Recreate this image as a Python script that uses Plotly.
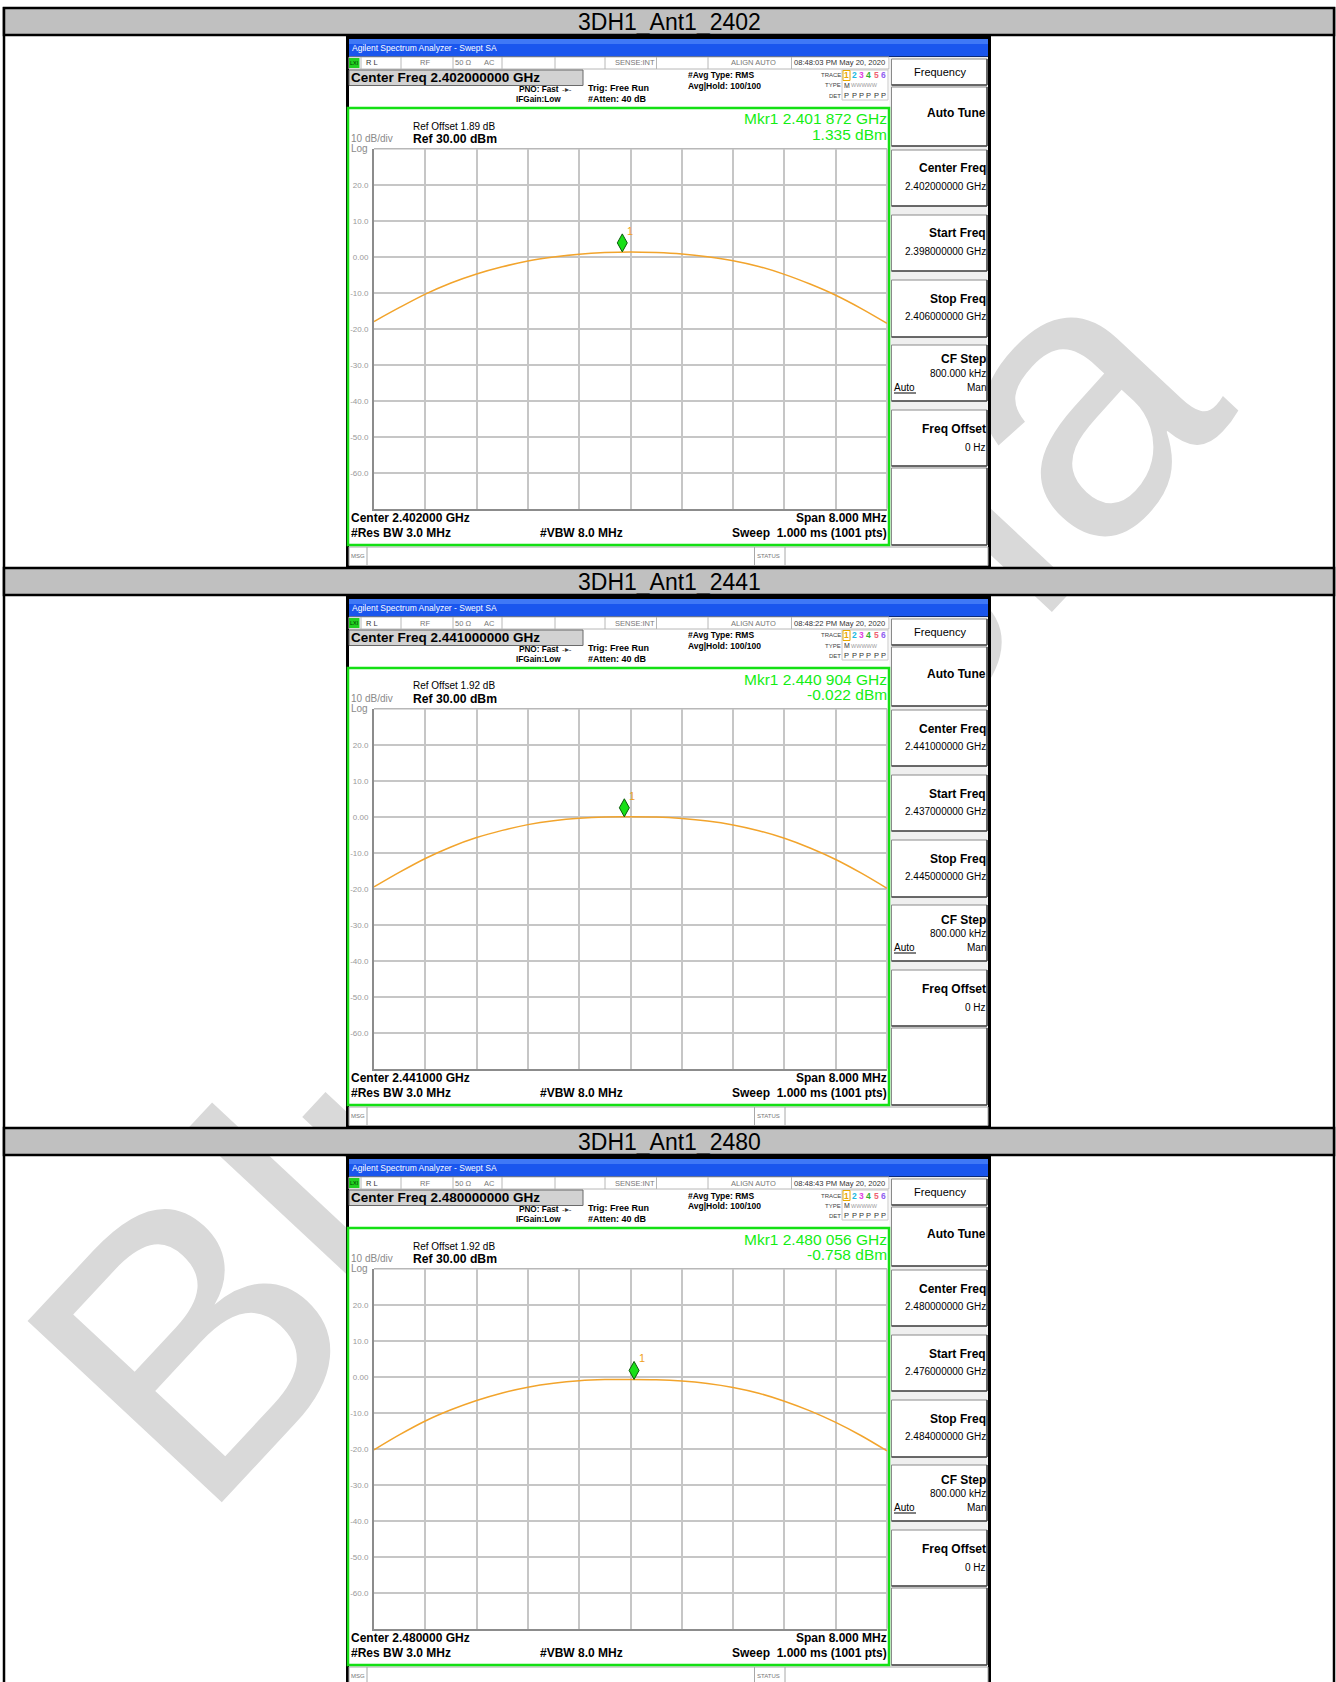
import plotly.graph_objects as go

# ---------------- data ----------------
panel_titles = ["3DH1_Ant1_2402", "3DH1_Ant1_2441", "3DH1_Ant1_2480"]
center_ghz = [2.402, 2.441, 2.480]
span_mhz = 8.0
ref_offset_db = [1.89, 1.92, 1.92]
sweep_time = ["08:48:03 PM May 20, 2020", "08:48:22 PM May 20, 2020", "08:48:43 PM May 20, 2020"]
marker_ghz = [2.401872, 2.440904, 2.480056]
marker_dbm = [1.335, -0.022, -0.758]

# trace readings, one every half division (0.4 MHz) across the span
freq_offset_mhz = [-4.0, -3.6, -3.2, -2.8, -2.4, -2.0, -1.6, -1.2, -0.8, -0.4, 0.0,
                   0.4, 0.8, 1.2, 1.6, 2.0, 2.4, 2.8, 3.2, 3.6, 4.0]
trace_2402 = [-18.0, -14.1, -10.4, -7.3, -4.8, -2.8, -1.2, -0.1, 0.7, 1.15, 1.33,
              1.15, 0.75, 0.0, -1.1, -2.7, -4.9, -7.6, -10.7, -14.4, -18.5]
trace_2441 = [-19.5, -15.4, -11.6, -8.4, -5.8, -3.8, -2.2, -1.1, -0.4, -0.05, -0.02,
              -0.1, -0.5, -1.2, -2.3, -3.9, -6.0, -8.7, -11.9, -15.7, -19.9]
trace_2480 = [-20.3, -16.1, -12.3, -9.2, -6.6, -4.5, -2.9, -1.8, -1.1, -0.8, -0.76,
              -0.85, -1.2, -1.9, -3.0, -4.6, -6.8, -9.5, -12.7, -16.4, -20.6]
traces = [trace_2402, trace_2441, trace_2480]

ref_level_dbm = 30.0
db_per_div = 10.0
ytick_vals = [20, 10, 0, -10, -20, -30, -40, -50, -60]
ytick_text = ["20.0", "10.0", "0.00", "-10.0", "-20.0", "-30.0", "-40.0", "-50.0", "-60.0"]
trace_ids = ["1", "2", "3", "4", "5", "6"]
trace_id_colors = ["#e8a800", "#20b8e0", "#e040e0", "#30b030", "#f06070", "#9060f0"]

# ---------------- page geometry helpers ----------------
W, H = 1336, 1682
ROW = 560
FONT = "Liberation Sans, Arial, sans-serif"

def X(px):
    return px / W

def Y(py):
    return 1 - py / H

shapes, annos = [], []

def box(x0, y0, x1, y1, fill="rgba(0,0,0,0)", line="rgba(0,0,0,0)", lw=0, layer="below"):
    shapes.append(dict(type="rect", xref="paper", yref="paper",
                       x0=X(x0), x1=X(x1), y0=Y(y1), y1=Y(y0),
                       fillcolor=fill, line=dict(color=line, width=lw), layer=layer))

def seg(x0, y0, x1, y1, color, lw, layer="below"):
    shapes.append(dict(type="line", xref="paper", yref="paper",
                       x0=X(x0), x1=X(x1), y0=Y(y0), y1=Y(y1),
                       line=dict(color=color, width=lw), layer=layer))

def txt(x, y, s, size, color="#000000", anchor="left", bold=False):
    annos.append(dict(xref="paper", yref="paper", x=X(x), y=Y(y),
                      text=f"<b>{s}</b>" if bold else s, showarrow=False,
                      xanchor=anchor, yanchor="middle", borderpad=0, borderwidth=0,
                      font=dict(family=FONT, size=size, color=color)))

def mkr_freq_text(g):
    s = f"{g:.6f}"
    return s[:5] + " " + s[5:]

# watermark behind everything
shapes.append(dict(type="rect", xref="paper", yref="paper",
                   x0=X(585), x1=X(605), y0=Y(862), y1=Y(842),
                   fillcolor="rgba(0,0,0,0)", line=dict(width=0), layer="below",
                   label=dict(text="BlueAsia", textangle=-47, textposition="middle center",
                              font=dict(family=FONT, size=386, color="#d9d9d9"))))

# table outer borders
seg(4, 7, 4, H + 5, "#000000", 2.5)
seg(1334, 7, 1334, H + 5, "#000000", 2.5)

fig = go.Figure()
layout_axes = {}

for i in range(3):
    d = ROW * i
    c = center_ghz[i]
    start = c - span_mhz / 2000
    stop = c + span_mhz / 2000

    # table header row
    box(4, 8 + d, 1334, 35 + d, fill="#c0c0c0", line="#000000", lw=2.5)
    txt(669, 21.8 + d, panel_titles[i], 23, anchor="center")

    # analyzer window frame
    box(346, 35.5 + d, 991, 567 + d, fill="#000000")
    box(349, 39 + d, 988, 56.5 + d, fill="#1a56ee")
    box(349, 39 + d, 988, 44 + d, fill="#3f78f6")
    box(349, 57 + d, 988, 565.5 + d, fill="#ffffff")
    txt(352, 48 + d, "Agilent Spectrum Analyzer - Swept SA", 8.5, "#ffffff")

    # status strip
    box(349, 57 + d, 889, 69 + d, fill="#ffffff", line="#b8b8b8", lw=1)
    for xd in [361, 401, 453, 502, 555, 605, 656.5, 708, 791.5]:
        seg(xd, 57 + d, xd, 69 + d, "#b8b8b8", 1)
    box(349, 58 + d, 359.5, 68 + d, fill="#22d022")
    txt(349.8, 63 + d, "LXI", 5.5, "#003300")
    txt(366, 63 + d, "R L", 7.5, "#333333")
    txt(420, 63 + d, "RF", 7.5, "#777777")
    txt(454.5, 63 + d, "50 Ω", 7.5, "#777777")
    txt(484, 63 + d, "AC", 7.5, "#777777")
    txt(655, 63 + d, "SENSE:INT", 7.5, "#777777", anchor="right")
    txt(731, 63 + d, "ALIGN AUTO", 7.5, "#777777")
    txt(794, 63 + d, sweep_time[i], 7.6, "#333333")

    # settings block
    box(349, 70 + d, 583, 85.5 + d, fill="#d2d2d2", line="#6a6a6a", lw=1)
    txt(351, 77.8 + d, f"Center Freq {c:.9f} GHz", 13.5, bold=True)
    txt(519, 89.5 + d, "PNO: Fast", 8.2, bold=True)
    txt(562, 89.5 + d, "-▸-", 8, "#333333")
    txt(516, 99 + d, "IFGain:Low", 8.2, bold=True)
    txt(588, 88 + d, "Trig: Free Run", 9, bold=True)
    txt(588, 99 + d, "#Atten: 40 dB", 9, bold=True)
    txt(688.5, 75.5 + d, "#Avg Type: RMS", 8.5, bold=True)
    txt(688.5, 86 + d, "Avg|Hold: 100/100", 8.5, bold=True)

    # trace table
    box(842, 70 + d, 888, 100 + d, line="#c8c8c8", lw=1)
    txt(841, 75.5 + d, "TRACE", 6, "#444444", anchor="right")
    txt(841, 85.5 + d, "TYPE", 6, "#444444", anchor="right")
    txt(841, 95.5 + d, "DET", 6, "#444444", anchor="right")
    box(843, 70.5 + d, 850, 80.5 + d, line="#e8a800", lw=1)
    for j, (tid, tcol) in enumerate(zip(trace_ids, trace_id_colors)):
        xj = 844.3 + j * 7.3
        txt(xj, 75.5 + d, tid, 8.5, tcol, bold=True)
        txt(xj, 95.5 + d, "P", 7.5, "#333333")
    txt(844.3, 85.5 + d, "M", 7, "#333333")
    txt(851, 85.5 + d, "WWWWW", 5.5, "#9a9a9a")

    # soft keys
    box(889.5, 57 + d, 988, 546 + d, fill="#efefef")
    keys = [(59, 85), (87, 146), (150, 206), (215, 271), (280, 337), (345, 401), (410, 466), (468, 545)]
    for (k0, k1) in keys:
        box(891.5, k0 + d, 987, k1 + d, fill="#ffffff", line="#8a8a8a", lw=1)
        seg(891.5, k1 + d, 987, k1 + d, "#4a4a4a", 1.5)
        seg(987, k0 + d, 987, k1 + d, "#4a4a4a", 1.5)
    txt(939.5, 71.5 + d, "Frequency", 11, anchor="center")
    txt(986, 113.5 + d, "Auto Tune", 12, anchor="right", bold=True)
    txt(986, 168.5 + d, "Center Freq", 12, anchor="right", bold=True)
    txt(986, 186 + d, f"{c:.9f} GHz", 10, anchor="right")
    txt(986, 233.5 + d, "Start Freq", 12, anchor="right", bold=True)
    txt(986, 251 + d, f"{start:.9f} GHz", 10, anchor="right")
    txt(986, 299 + d, "Stop Freq", 12, anchor="right", bold=True)
    txt(986, 316.5 + d, f"{stop:.9f} GHz", 10, anchor="right")
    txt(986, 359.5 + d, "CF Step", 12, anchor="right", bold=True)
    txt(986, 373.5 + d, "800.000 kHz", 10, anchor="right")
    txt(894, 387 + d, "Auto", 10)
    seg(894, 393 + d, 916, 393 + d, "#000000", 1)
    txt(986, 387 + d, "Man", 10, anchor="right")
    txt(986, 429 + d, "Freq Offset", 12, anchor="right", bold=True)
    txt(986, 447 + d, "0 Hz", 10, anchor="right")

    # message strip
    box(349, 547 + d, 988, 565.5 + d, fill="#ffffff", line="#a8a8a8", lw=1)
    seg(367, 547 + d, 367, 565.5 + d, "#a8a8a8", 1)
    seg(754.5, 547 + d, 754.5, 565.5 + d, "#a8a8a8", 1)
    seg(785, 547 + d, 785, 565.5 + d, "#a8a8a8", 1)
    txt(351, 556 + d, "MSG", 6, "#777777")
    txt(757, 556 + d, "STATUS", 6, "#777777")

    # measurement display
    box(348, 108 + d, 889, 545 + d, line="#14e014", lw=2.5)
    seg(374, 148.7 + d, 887, 148.7 + d, "#b8b8b8", 1.5)
    seg(887, 148.7 + d, 887, 508.7 + d, "#b8b8b8", 1.5)
    txt(886.5, 119 + d, f"Mkr1 {mkr_freq_text(marker_ghz[i])} GHz", 15.5, "#14ee14", anchor="right")
    txt(886.5, 134 + d, f"{marker_dbm[i]:.3f} dBm", 15.5, "#14ee14", anchor="right")
    txt(413, 126 + d, f"Ref Offset {ref_offset_db[i]:.2f} dB", 10)
    txt(413, 138.5 + d, f"Ref {ref_level_dbm:.2f} dBm", 12.2, bold=True)
    txt(351, 138.5 + d, f"{db_per_div:.0f} dB/div", 10, "#8a8a8a")
    txt(351, 148.5 + d, "Log", 10, "#8a8a8a")
    txt(351, 517.5 + d, f"Center {c:.6f} GHz", 12, bold=True)
    txt(886.5, 517.5 + d, f"Span {span_mhz:.3f} MHz", 12, anchor="right", bold=True)
    txt(351, 533 + d, "#Res BW 3.0 MHz", 12, bold=True)
    txt(540, 533 + d, "#VBW 8.0 MHz", 12, bold=True)
    txt(886.5, 533 + d, "Sweep&nbsp; 1.000 ms (1001 pts)", 12, anchor="right", bold=True)

    # axes for this sweep
    n = "" if i == 0 else str(i + 1)
    layout_axes[f"xaxis{n}"] = dict(
        domain=[X(374), X(887)], range=[start, stop], anchor=f"y{n}",
        tickmode="linear", tick0=start, dtick=span_mhz / 10000,
        showgrid=True, gridcolor="#c6c6c6", gridwidth=1.5,
        showticklabels=False, ticks="", zeroline=False,
        showline=True, linecolor="#8c8c8c", linewidth=2, fixedrange=True)
    layout_axes[f"yaxis{n}"] = dict(
        domain=[Y(508.7 + d), Y(148.7 + d)],
        range=[ref_level_dbm - 10 * db_per_div, ref_level_dbm], anchor=f"x{n}",
        tickmode="array", tickvals=ytick_vals, ticktext=ytick_text,
        showgrid=True, gridcolor="#c6c6c6", gridwidth=1.5,
        ticks="", ticklabelstandoff=2,
        tickfont=dict(family=FONT, size=8, color="#999999"),
        zeroline=False, showline=True, linecolor="#8c8c8c", linewidth=2, fixedrange=True)

    freqs = [c + o / 1000 for o in freq_offset_mhz]
    fig.add_trace(go.Scatter(
        x=freqs, y=traces[i], mode="lines",
        line=dict(color="#f2a42c", width=1.5, shape="spline", smoothing=0.8),
        xaxis=f"x{n}", yaxis=f"y{n}", hoverinfo="skip", showlegend=False))

    # marker 1 diamond sitting on the trace
    shapes.append(dict(type="path", xref=f"x{n}", yref=f"y{n}",
                       xsizemode="pixel", ysizemode="pixel",
                       xanchor=marker_ghz[i], yanchor=marker_dbm[i],
                       path="M0,0 L5,9 L0,18 L-5,9 Z",
                       fillcolor="#18e018", line=dict(color="#0a5a0a", width=1),
                       layer="above"))
    annos.append(dict(xref=f"x{n}", yref=f"y{n}", x=marker_ghz[i], y=marker_dbm[i],
                      text="1", showarrow=False, xshift=8, yshift=21,
                      font=dict(family=FONT, size=11, color="#f0a020")))

fig.update_layout(
    width=W, height=H, autosize=False,
    margin=dict(l=0, r=0, t=0, b=0, pad=0),
    paper_bgcolor="#ffffff", plot_bgcolor="rgba(0,0,0,0)",
    hovermode=False, showlegend=False,
    shapes=shapes, annotations=annos,
    **layout_axes)

fig.write_html("out.html", include_plotlyjs=True, config={"displayModeBar": False})
